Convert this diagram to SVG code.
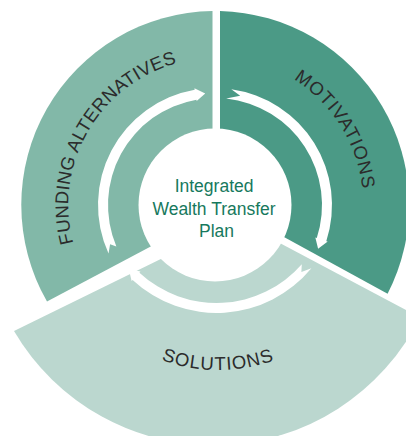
<svg xmlns="http://www.w3.org/2000/svg" width="406" height="436" viewBox="0 0 406 436">
  <defs>
    <style>
      .label{font-family:"Liberation Sans",Arial,sans-serif;font-size:18.5px;fill:#2b2b2b;}
      .core{font-family:"Liberation Sans",Arial,sans-serif;font-size:17.5px;fill:#17795d;text-anchor:middle;}
      .arrow{fill:#ffffff;}
    </style>
    <!-- baselines for the curved sector labels -->
    <path id="arc-funding" d="M130.7,325.4 A147,147 0 0 1 277.1,71.8"/>
    <path id="arc-motivations" d="M147.8,73.1 A148,148 0 0 1 304.1,323.2"/>
    <path id="arc-solutions" d="M75.1,287.5 A165,165 0 0 0 360.9,287.5"/>
  </defs>

  <rect width="406" height="436" fill="#ffffff"/>

  <g id="funding-alternatives">
    <path d="M212.5,11 L212.5,213.8 L47,301.5 A194,194 0 0 1 212.5,11 Z" fill="#82b8a8"/>
    <text class="label" letter-spacing="0.3"><textPath href="#arc-funding" startOffset="50%" text-anchor="middle">FUNDING ALTERNATIVES</textPath></text>
  </g>

  <g id="motivations">
    <path d="M220,11 A194,194 0 0 1 387.6,293.8 L220,202 Z" fill="#4b9a86"/>
    <text class="label" letter-spacing="0.9"><textPath href="#arc-motivations" startOffset="50%" text-anchor="middle">MOTIVATIONS</textPath></text>
  </g>

  <g id="solutions">
    <path d="M14,331 L238.3,221 L420,317.4 A231,231 0 0 1 14,331 Z" fill="#bbd7cf"/>
    <text class="label" letter-spacing="1"><textPath href="#arc-solutions" startOffset="50%" text-anchor="middle">SOLUTIONS</textPath></text>
  </g>

  <g id="plan">
    <circle cx="215" cy="205" r="76.5" fill="#ffffff"/>
    <text class="core">
      <tspan x="216.5" y="191.5">Integrated</tspan>
      <tspan x="216.5" y="214.5">Wealth Transfer</tspan>
      <tspan x="216.5" y="237">Plan</tspan>
    </text>
  </g>

  <g id="connectors">
    <path class="arrow" d="M108.53,253.52 A117,117 0 0 1 194.69,89.78 L194.43,88.30 L205.23,93.43 L196.69,101.10 L196.42,99.63 A107,107 0 0 0 116.36,246.46 L110.09,244.22 Z"/>
    <path class="arrow" d="M231.29,89.14 A117,117 0 0 1 326.28,241.15 L327.71,241.62 L318.10,248.76 L315.34,237.60 L316.77,238.06 A107,107 0 0 0 226.18,98.59 L240.2,95.87 Z"/>
    <path class="arrow" d="M311.41,268.24 A123,123 0 0 1 132.61,279.96 L131.59,281.06 L128.81,268.95 L140.46,271.55 L139.43,272.65 A113,113 0 0 0 301.78,264.14 L301.38,271.97 Z"/>
  </g>
</svg>
